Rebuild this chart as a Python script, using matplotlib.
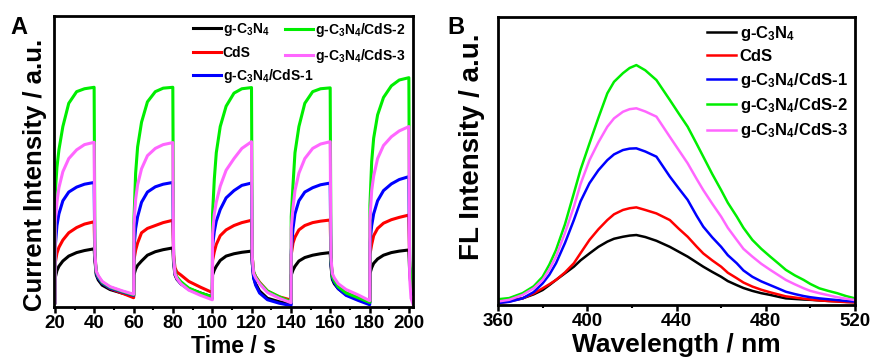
import matplotlib
matplotlib.use("Agg")
import matplotlib.pyplot as plt
import numpy as np

plt.rcParams['font.family'] = ['Liberation Sans', 'DejaVu Sans']
plt.rcParams['font.weight'] = 'bold'
plt.rcParams['mathtext.fontset'] = 'custom'
plt.rcParams['mathtext.rm'] = 'Liberation Sans:bold'
plt.rcParams['mathtext.bf'] = 'Liberation Sans:bold'
plt.rcParams['mathtext.it'] = 'Liberation Sans:bold'
plt.rcParams['mathtext.default'] = 'bf'

# ---------------- data ----------------
labels = ['g-C$_3$N$_4$', 'CdS', 'g-C$_3$N$_4$/CdS-1', 'g-C$_3$N$_4$/CdS-2', 'g-C$_3$N$_4$/CdS-3']
colors = ['#000000', '#FF0000', '#0000FF', '#00EE00', '#FF66FF']

# Panel A: photocurrent response (light on 20 s / off 20 s)
cycle_starts = [20, 60, 100, 140, 180]
on_offsets = [0, 0.1, 1, 2, 4, 7, 11, 15, 19.9]
off_offsets = [20.3, 21, 22, 24, 28, 34, 39.9]
last_off_offsets = [20.3, 21, 22]

# values per cycle: 9 "on" values then the "off" values
black_I = [
    [1.5, 10, 12.5, 14, 15.8, 17.5, 18.7, 19.4, 20.0, 16, 11, 9.3, 7.5, 6.0, 4.8, 3.8],
    [3.8, 11, 13, 14.3, 15.8, 17.8, 19.0, 19.7, 20.3, 15, 11, 9.5, 8.0, 6.3, 4.8, 3.5],
    [3.5, 11, 12.7, 14, 16, 17.5, 18.3, 18.8, 19.2, 15, 10, 8.0, 5.5, 3.0, 1.8, 1.0],
    [1.0, 11, 12.7, 14, 15.8, 17, 17.8, 18.3, 18.7, 14, 9.5, 8.0, 6.3, 4.2, 2.8, 1.4],
    [1.4, 11.5, 13.5, 15, 16.5, 17.8, 18.7, 19.2, 19.6, 12, 7, 5],
]
cds_I = [
    [1.5, 15, 18.5, 20.5, 23, 25.5, 27.3, 28.5, 29.3, 17, 11.7, 10.2, 8.3, 6.4, 4.8, 3.2],
    [3.2, 16, 19.5, 22, 25.5, 27, 28, 29, 29.8, 18, 13.5, 12.0, 11.0, 8.8, 6.8, 5.0],
    [5.0, 16, 19, 21.5, 24.5, 26.5, 28, 29, 29.8, 17, 12, 10.5, 8.5, 5.5, 3.5, 2.4],
    [2.4, 18, 22, 24, 26.5, 28, 29, 29.5, 29.9, 16, 10.5, 9.0, 7.0, 4.8, 3.2, 1.8],
    [1.8, 18, 21.5, 24.5, 27, 28.8, 30, 30.8, 31.6, 14, 7, 5],
]
cds1_I = [
    [1.5, 20.5, 28, 32, 36.5, 39.5, 41.2, 42.2, 42.8, 17, 11.5, 10.0, 8.2, 6.5, 5.2, 4.0],
    [4.0, 20, 27, 31, 36, 39.5, 41.3, 42.2, 42.8, 16.5, 11.5, 9.8, 8.0, 6.0, 4.4, 3.0],
    [3.0, 21, 26, 29.5, 33.5, 37.5, 40, 41.8, 42.6, 15, 10, 7.5, 4.8, 2.5, 1.3, 0.5],
    [0.5, 19, 27, 32, 36.5, 39.5, 41, 42, 42.6, 15, 10, 8.5, 6.3, 4.0, 2.3, 0.8],
    [0.8, 22, 28, 32, 36.5, 40, 42.3, 43.8, 44.8, 14, 7, 4.5],
]
cds2_I = [
    [1.5, 39, 48, 54, 62, 70, 74, 75, 75.5, 18, 12, 10.5, 8.5, 6.8, 5.4, 4.2],
    [4.2, 29, 46, 55, 63.5, 70.5, 74, 75.2, 75.5, 17, 12, 10.3, 8.7, 6.5, 4.8, 3.5],
    [3.5, 32, 44, 53, 62, 69, 73.5, 75, 75.4, 17, 12, 10.4, 8.3, 5.5, 3.5, 1.8],
    [1.8, 31, 42, 53, 62, 70, 74, 75, 75.3, 16, 10.5, 9.0, 7.0, 4.8, 3.2, 1.6],
    [1.6, 35, 50, 58, 66, 72, 76, 78, 78.8, 16, 8, 5.8],
]
cds3_I = [
    [1.5, 29, 36, 41, 46.5, 51, 54, 55.8, 56.6, 18, 12.3, 10.8, 8.8, 7.0, 5.6, 4.4],
    [4.4, 28, 37, 42, 47.5, 52, 54.5, 55.8, 56.5, 17, 11.5, 9.8, 8.0, 5.8, 4.0, 2.5],
    [2.5, 25, 32, 36, 41.5, 47, 51, 54.5, 56.8, 17, 11.5, 10.0, 8.0, 5.0, 3.0, 1.5],
    [1.5, 27, 34, 40, 46, 51, 54.5, 56, 56.8, 17, 11.5, 10.0, 8.0, 6.0, 4.2, 2.2],
    [2.2, 30, 40, 45, 51, 55.5, 58.5, 60.5, 62, 10, 3, 1],
]
photocurrent = [black_I, cds_I, cds1_I, cds2_I, cds3_I]

# Panel B: FL spectra
wavelength = [360, 365, 371, 376, 380, 383, 386, 390, 394, 397, 401, 405, 409, 412, 416, 419, 422,
              426, 431, 437, 441, 445, 449, 452, 456, 460, 463, 467, 470, 474, 478, 482, 486, 489,
              493, 497, 500, 504, 508, 512, 516, 520]
fl_black = [1.2, 1.6, 2.3, 3.7, 5.2, 6.9, 8.7, 11.0, 13.3, 15.5, 17.9, 20.2, 22.0, 23.0, 23.7, 24.1, 24.3,
            23.6, 22.3, 20.2, 18.5, 16.8, 14.8, 13.3, 11.5, 9.8, 8.3, 6.9, 5.9, 4.9, 4.1, 3.5, 2.8, 2.3,
            2.1, 1.9, 1.8, 1.6, 1.4, 1.3, 1.1, 1.0]
fl_cds = [0.7, 1.2, 2.3, 4.0, 5.8, 7.2, 8.7, 11.3, 14.5, 18.0, 22.6, 26.3, 29.5, 31.5, 33.0, 33.6, 33.9,
          33.0, 31.8, 29.5, 26.5, 23.7, 20.3, 17.9, 15.5, 13.3, 11.2, 9.3, 7.8, 6.4, 5.3, 4.4, 3.6, 3.0,
          2.6, 2.2, 1.9, 1.6, 1.4, 1.2, 1.0, 0.9]
fl_cds1 = [0.7, 1.1, 2.3, 4.5, 7.5, 10.5, 14.5, 21.5, 29.5, 36.0, 42.3, 46.8, 50.3, 52.3, 53.8, 54.3, 54.4,
           53.3, 51.5, 44.6, 40.5, 36.5, 31.0, 27.2, 23.5, 20.2, 17.3, 14.5, 12.0, 9.8, 8.2, 6.9, 5.6, 4.6,
           3.8, 3.1, 2.7, 2.3, 2.0, 1.7, 1.4, 1.2]
fl_cds2 = [2.0, 2.4, 4.1, 6.5, 9.8, 14.0, 19.1, 28.0, 38.8, 47.0, 56.1, 65.0, 73.5, 77.5, 80.5, 82.3, 83.3,
           81.5, 78.1, 71.2, 66.5, 61.9, 56.0, 51.5, 45.5, 39.9, 35.5, 30.7, 26.8, 22.6, 19.5, 16.8, 14.2, 12.2,
           10.3, 8.7, 7.3, 5.8, 4.9, 4.1, 3.1, 2.3]
fl_cds3 = [1.2, 1.8, 3.5, 5.8, 8.7, 12.3, 16.8, 25.0, 34.1, 42.0, 50.3, 56.5, 61.9, 64.8, 67.1, 68.0, 68.3,
           67.2, 65.4, 58.4, 53.8, 49.2, 43.8, 39.9, 35.2, 30.7, 26.8, 22.6, 19.5, 16.8, 14.3, 12.2, 10.2, 8.7,
           7.2, 5.8, 4.9, 4.1, 3.4, 2.7, 2.2, 1.7]
fl_spectra = [fl_black, fl_cds, fl_cds1, fl_cds2, fl_cds3]

# ---------------- figure ----------------
W, H = 873, 360
fig = plt.figure(figsize=(W / 100, H / 100), dpi=100)

def px_axes(l, t, r, b):
    return fig.add_axes([l / W, 1 - b / H, (r - l) / W, (b - t) / H])

axA = px_axes(54, 16, 413, 307)
axB = px_axes(498, 17, 855, 305)

# time grid from cycle starts and offsets
times = []
for i, s in enumerate(cycle_starts):
    offs = on_offsets + (last_off_offsets if i == len(cycle_starts) - 1 else off_offsets)
    times.extend([s + o for o in offs])

handles = []
for series, lab, col in zip(photocurrent, labels, colors):
    vals = [v for cyc in series for v in cyc]
    h, = axA.plot(times, vals, color=col, lw=2.2, label=lab)
    handles.append(h)

axA.set_xlim(19.5, 202)
axA.set_ylim(0, 100)
axA.set_xticks([20, 40, 60, 80, 100, 120, 140, 160, 180, 200])
axA.set_xticks([30, 50, 70, 90, 110, 130, 150, 170, 190], minor=True)
axA.set_yticks([])

for series, lab, col in zip(fl_spectra, labels, colors):
    axB.plot(wavelength, series, color=col, lw=1.8, label=lab)
axB.set_xlim(360, 520)
axB.set_ylim(0, 100)
axB.set_xticks([360, 400, 440, 480, 520])
axB.set_xticks([380, 420, 460, 500], minor=True)
axB.set_yticks([])

for ax in (axA, axB):
    for sp in ax.spines.values():
        sp.set_linewidth(2.0)
    ax.tick_params(axis='x', which='major', direction='out', length=4, width=1.8,
                   labelsize=13.5, pad=2)
    ax.tick_params(axis='x', which='minor', direction='out', length=2.5, width=1.5)
    for t in ax.get_xticklabels():
        t.set_fontweight('bold')

axA.set_xlabel('Time / s', fontsize=16.5, fontweight='bold')
axA.xaxis.set_label_coords(0.499, -0.095)
axA.set_ylabel('Current Intensity / a.u.', fontsize=18.5, fontweight='bold')
axA.yaxis.set_label_coords(-0.02, 0.455)

axB.set_xlabel('Wavelength / nm', fontsize=19, fontweight='bold')
axB.xaxis.set_label_coords(0.499, -0.098)
axB.set_ylabel('FL Intensity / a.u.', fontsize=20, fontweight='bold')
axB.yaxis.set_label_coords(-0.036, 0.549)

fig.text(19 / W, 1 - 27 / H, 'A', fontsize=17, fontweight='bold', ha='center', va='center')
fig.text(456 / W, 1 - 27 / H, 'B', fontsize=17, fontweight='bold', ha='center', va='center')

# Panel A legends (two groups)
legA1 = axA.legend(handles[:3], labels[:3], loc='upper left',
                   bbox_to_anchor=(193 / W, 1 - 21 / H), bbox_transform=fig.transFigure,
                   frameon=False, fontsize=10, handlelength=2.0, handletextpad=0.15,
                   labelspacing=0.55, borderpad=0, borderaxespad=0)
axA.add_artist(legA1)
axA.legend(handles[3:], labels[3:], loc='upper left',
           bbox_to_anchor=(285 / W, 1 - 21 / H), bbox_transform=fig.transFigure,
           frameon=False, fontsize=10, handlelength=2.0, handletextpad=0.15,
           labelspacing=0.55, borderpad=0, borderaxespad=0)

axB.legend(loc='upper left', bbox_to_anchor=(707 / W, 1 - 24 / H), bbox_transform=fig.transFigure,
           frameon=False, fontsize=12, handlelength=1.75, handletextpad=0.2,
           labelspacing=0.38, borderpad=0, borderaxespad=0)

fig.savefig('out.png', dpi=100)
